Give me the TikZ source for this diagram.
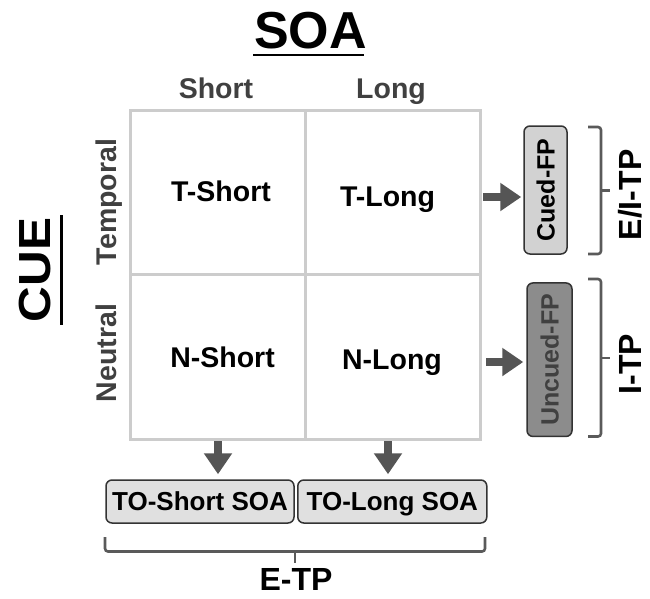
\documentclass[tikz,border=0pt]{standalone}
\usepackage{fontspec}
\setmainfont{Liberation Sans}
\usetikzlibrary{arrows.meta}
\definecolor{gridc}{HTML}{CCCCCC}
\definecolor{hdr}{HTML}{404040}
\definecolor{arr}{HTML}{555555}
\definecolor{brk}{HTML}{5A5A5A}
\definecolor{cuedfill}{HTML}{D2D2D2}
\definecolor{uncuedfill}{HTML}{8C8C8C}
\definecolor{tofill}{HTML}{E0E0E0}
\definecolor{boxline}{HTML}{333333}
\newcommand\myfs[1]{\fontsize{#1}{#1}\selectfont\bfseries}
\begin{document}
\begin{tikzpicture}[x=1pt,y=-1pt,
  lbl/.style={inner sep=0pt, anchor=base, font=\myfs{28.5}},
  hdrlbl/.style={lbl, text=hdr},
  cellbox/.style={draw=gridc, line width=3pt, minimum width=175pt, minimum height=164.5pt, inner sep=0pt},
  bigarrow/.style={draw=arr, line width=7.5pt, -{Triangle[length=21pt,width=27pt]}},
  bracketline/.style={draw=brk, line width=2.6pt, rounded corners=3pt},
  fpbox/.style={draw=boxline, line width=1.5pt, rounded corners=6pt, rotate=90, inner sep=0pt, text height=18pt, text depth=0pt, font=\myfs{25}},
  tobox/.style={draw=boxline, line width=1.5pt, rounded corners=6pt, fill=tofill, inner sep=0pt, minimum height=43pt, text height=18.5pt, text depth=0pt, font=\myfs{26}},
  bigtitle/.style={inner sep=0pt, anchor=base},
  ulinestyle/.style={line width=2.7pt}
]
\fill[white] (0,0) rectangle (650,598);
\useasboundingbox (0,0) rectangle (650,598);

% titles
\node[bigtitle, font=\myfs{52}] (soa) at (310.5,48) {SOA};
\draw[ulinestyle] (253,55) -- (364,55);
\node[bigtitle, rotate=90, font=\myfs{45}] (cue) at (50,270) {\scalebox{1.1}[1]{CUE}};
\draw[ulinestyle] (61.7,215) -- (61.7,325);

% headers
\node[hdrlbl] (hshort) at (216,98) {Short};
\node[hdrlbl] (hlong) at (391,98) {Long};
\node[hdrlbl, rotate=90] (htemp) at (116,202) {Temporal};
\node[hdrlbl, rotate=90] (hneut) at (116,353) {Neutral};

% grid cells
\node[cellbox] (cts) at (217.5,192.25) {};
\node[cellbox] (ctl) at (392.5,192.25) {};
\node[cellbox] (cns) at (217.5,356.75) {};
\node[cellbox] (cnl) at (392.5,356.75) {};

% cell labels
\node[lbl] (ts) at (221,201) {T-Short};
\node[lbl] (tl) at (387.5,206) {T-Long};
\node[lbl] (ns) at (222.5,367) {N-Short};
\node[lbl] (nl) at (392,369) {N-Long};

% FP boxes
\node[fpbox, fill=cuedfill, minimum width=128pt, minimum height=43pt] (cued) at (545.5,190) {Cued-FP};
\node[fpbox, fill=uncuedfill, text=hdr, minimum width=153.5pt, minimum height=45pt] (uncued) at (549.5,359.7) {Uncued-FP};

% TO boxes
\node[tobox, minimum width=188pt] (tos) at (200,501.5) {TO-Short SOA};
\node[tobox, minimum width=189pt] (tol) at (392.3,501.5) {TO-Long SOA};

% arrows
\coordinate (a1) at (483,197);
\coordinate (a2) at (486,362);
\coordinate (b1) at (218,441);
\coordinate (b2) at (388,441);
\draw[bigarrow, shorten >=2pt] (a1) -- (a1 -| cued.north);
\draw[bigarrow, shorten >=3pt] (a2) -- (a2 -| uncued.north);
\draw[bigarrow, shorten >=5pt] (b1) -- (b1 |- tos.north);
\draw[bigarrow, shorten >=5pt] (b2) -- (b2 |- tol.north);

% brackets
\draw[bracketline] (588,127) -- (601,127) -- (601,254) -- (588,254);
\draw[bracketline] (601,190.5) -- (610,190.5);
\draw[bracketline] (588,279) -- (601,279) -- (601,436.5) -- (588,436.5);
\draw[bracketline] (601,358) -- (610,358);
\draw[bracketline] (105,537) -- (105,551.5) -- (485,551.5) -- (485,537);
\draw[bracketline] (295,551.5) -- (295,563);

% bracket labels
\node[bigtitle, rotate=90, font=\myfs{32}] (eitp) at (641,195) {E/I-TP};
\node[bigtitle, rotate=90, font=\myfs{32}] (itp) at (641,364) {I-TP};
\node[bigtitle, font=\myfs{32}] (etp) at (296,590) {E-TP};
\end{tikzpicture}
\end{document}
